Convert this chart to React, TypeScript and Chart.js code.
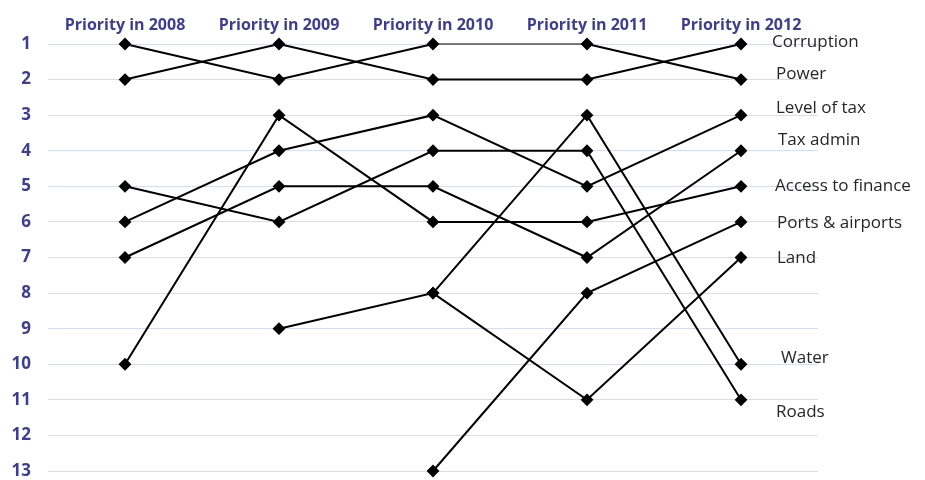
import React, { useEffect, useRef } from "react";
import { Chart, registerables } from "chart.js";

Chart.register(...registerables);

const years = ["Priority in 2008", "Priority in 2009", "Priority in 2010", "Priority in 2011", "Priority in 2012"];
const rankTicks = [1, 2, 3, 4, 5, 6, 7, 8, 9, 10, 11, 12, 13];

const seriesNames = ["Corruption", "Power", "Level of tax", "Tax admin", "Access to finance", "Ports & airports", "Land", "Water", "Roads"];

const corruption = [2, 1, 2, 2, 1];
const power = [1, 2, 1, 1, 2];
const levelOfTax = [6, 4, 3, 5, 3];
const taxAdmin = [7, 5, 5, 7, 4];
const accessToFinance = [10, 3, 6, 6, 5];
const portsAirports = [null, null, 13, 8, 6];
const land = [null, 9, 8, 11, 7];
const water = [null, null, 8, 3, 10];
const roads = [5, 6, 4, 4, 11];

const seriesValues = [corruption, power, levelOfTax, taxAdmin, accessToFinance, portsAirports, land, water, roads];

// label placement offsets (pixels) relative to each series' last point
const labelDx = [31, 35, 35, 37, 34, 36, 36, 40, 35];
const labelDy = [-2, -5, -7, -11, 0, 1, 1, -6, 12];

const BLUE = "#3d3d95";

const endLabels = {
  id: "endLabels",
  afterDatasetsDraw(chart: any) {
    const ctx = chart.ctx;
    ctx.save();
    ctx.font = "17px 'Open Sans'";
    ctx.fillStyle = "#262626";
    ctx.textAlign = "left";
    ctx.textBaseline = "middle";
    chart.data.datasets.forEach((ds: any, i: number) => {
      const meta = chart.getDatasetMeta(i);
      const last = meta.data[meta.data.length - 1];
      if (!last) return;
      ctx.fillText(seriesNames[i], last.x + labelDx[i], last.y + labelDy[i]);
    });
    ctx.restore();
  },
};

export default function App() {
  const ref = useRef<HTMLCanvasElement>(null);
  useEffect(() => {
    if (!ref.current) return;
    const chart = new Chart(ref.current, {
      type: "line",
      data: {
        labels: years,
        datasets: seriesValues.map((vals, i) => ({
          label: seriesNames[i],
          data: vals,
          borderColor: "#000",
          backgroundColor: "#000",
          borderWidth: 2,
          pointStyle: "rectRot",
          pointRadius: 5,
          pointBackgroundColor: "#000",
          pointBorderColor: "#000",
          spanGaps: false,
          clip: false,
          segment: i === 1 ? { borderWidth: (c: any) => (c.p0DataIndex === 2 ? 1 : 2) } : undefined,
        })),
      },
      options: {
        animation: false,
        responsive: false,
        maintainAspectRatio: false,
        devicePixelRatio: 1,
        layout: { padding: { left: 0, right: 107, top: 0, bottom: 9 } },
        plugins: { legend: { display: false }, tooltip: { enabled: false } },
        scales: {
          x: {
            position: "top",
            offset: true,
            grid: { display: false, drawTicks: false },
            border: { display: false },
            ticks: {
              color: BLUE,
              font: { family: "'Open Sans'", size: 16, weight: "bold" },
              padding: 9,
              maxRotation: 0,
            },
            afterFit(axis: any) {
              axis.height = 44;
              axis.paddingLeft = 0;
              axis.paddingRight = 0;
            },
          },
          y: {
            reverse: true,
            min: 1,
            max: 13,
            grid: { color: "#d6ddee", lineWidth: 1, drawTicks: false },
            border: { display: false },
            afterBuildTicks(axis: any) {
              axis.ticks = rankTicks.map((v) => ({ value: v }));
            },
            ticks: {
              color: BLUE,
              font: { family: "'Open Sans'", size: 17, weight: "bold" },
              padding: 17,
            },
            afterFit(axis: any) {
              axis.width = 48;
              axis.paddingTop = 0;
              axis.paddingBottom = 0;
            },
          },
        },
      },
      plugins: [endLabels],
    });
    return () => chart.destroy();
  }, []);
  return (
    <div style={{ position: "fixed", left: 0, top: 0, width: 925, height: 480, background: "#fff" }}>
      <canvas ref={ref} width={925} height={480} style={{ display: "block" }} />
    </div>
  );
}
